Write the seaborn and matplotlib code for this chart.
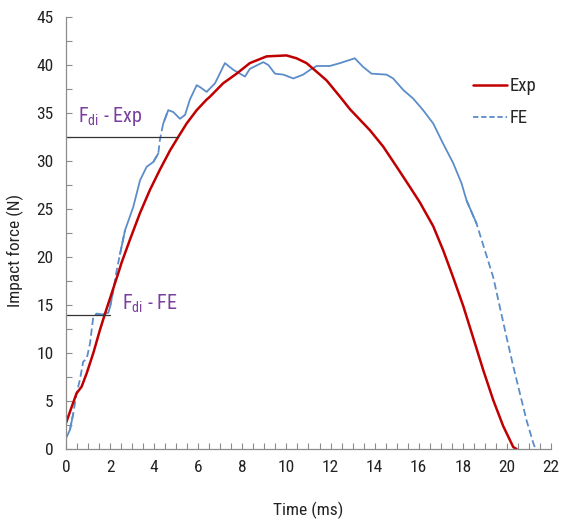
import numpy as np
import pandas as pd
import matplotlib
matplotlib.use("Agg")
import matplotlib.pyplot as plt
from matplotlib.lines import Line2D
from matplotlib.ticker import MultipleLocator
import seaborn as sns

# ---- data ----
exp_t = [0, 0.26, 0.48, 0.71, 0.94, 1.24, 1.54, 1.77, 2.07, 2.37, 2.52, 2.9, 3.36,
         3.81, 4.26, 4.72, 5.09, 5.47, 5.93, 6.38, 6.53, 7.13, 7.74, 8.34, 9.1, 10.0,
         10.46, 10.91, 11.37, 11.82, 12.43, 12.88, 13.79, 14.39, 15.0, 15.6, 16.05,
         16.66, 17.11, 17.56, 18.02, 18.47, 18.93, 19.38, 19.83, 20.29, 20.44]
exp_f = [2.7, 4.4, 5.8, 6.5, 7.9, 10.0, 12.4, 14.1, 16.2, 18.3, 19.4, 21.8, 24.6,
         27.0, 29.1, 31.1, 32.5, 33.9, 35.3, 36.4, 36.7, 38.1, 39.1, 40.2, 40.9, 41.0,
         40.7, 40.2, 39.3, 38.4, 36.7, 35.4, 33.2, 31.5, 29.4, 27.3, 25.7,
         23.2, 20.7, 17.9, 14.9, 11.6, 8.2, 5.1, 2.4, 0.2, 0.0]

fe_t = [0, 0.18, 0.33, 0.48, 0.63, 0.78, 0.94, 1.09, 1.24, 1.39, 1.62, 1.92, 2.0,
        2.15, 2.3, 2.45, 2.68, 3.05, 3.36, 3.66, 3.96, 4.19, 4.26, 4.41, 4.64, 4.87,
        5.17, 5.4, 5.62, 5.93, 6.08, 6.38, 6.76, 7.21, 7.59, 8.12, 8.34, 8.95, 9.18,
        9.48, 9.86, 10.31, 10.76, 11.07, 11.37, 11.97, 12.43, 13.1, 13.48, 13.86,
        14.54, 14.84, 15.3, 15.75, 16.2, 16.66, 17.11, 17.56, 17.94, 18.17, 18.62,
        19.0, 19.38, 19.68, 19.98, 20.29, 20.59, 20.89, 21.2, 21.3]
fe_f = [1.1, 2.0, 3.7, 5.8, 7.2, 9.1, 9.4, 11.0, 13.8, 14.1, 14.0, 14.2, 14.8,
        16.6, 18.6, 20.3, 22.8, 25.2, 28.0, 29.4, 29.9, 30.8, 32.2, 33.9, 35.3, 35.1,
        34.4, 34.8, 36.4, 37.9, 37.7, 37.2, 38.1, 40.2, 39.5, 38.8, 39.6, 40.3, 40.0,
        39.1, 39.0, 38.6, 39.0, 39.5, 39.9, 39.9, 40.2, 40.7, 39.8, 39.1,
        39.0, 38.6, 37.4, 36.5, 35.3, 33.9, 31.8, 29.8, 27.7, 25.9, 23.5,
        20.7, 17.9, 14.8, 11.7, 8.6, 5.8, 3.0, 0.6, 0.0]

series_labels = ["Exp", "FE"]
fdi_exp = 32.5   # force level of F_di - Exp
fdi_exp_t = 5.1
fdi_fe = 14.0    # force level of F_di - FE
fdi_fe_t = 2.0

# time ranges where the FE curve is drawn dashed in the reference
fe_dashed = [(0.3, 1.4), (2.1, 2.5), (4.15, 4.45), (18.4, 21.4)]

# ---- style ----
sns.set_theme(style="white")
plt.rcParams["font.family"] = ["Roboto Condensed", "Liberation Sans Narrow",
                               "Liberation Sans", "DejaVu Sans"]
plt.rcParams["mathtext.default"] = "regular"

RED = "#C00000"
BLUE = "#5B8DC9"
PURPLE = "#7A3FA0"
GREY = "#8C8C8C"
TXT = "#222222"

fig = plt.figure(figsize=(5.62, 5.22), dpi=100)
ax = fig.add_axes([0.1174, 0.1398, 0.8630, 0.8276])

df_exp = pd.DataFrame({"t": exp_t, "f": exp_f})
df_fe = pd.DataFrame({"t": fe_t, "f": fe_f})

# FE curve: split into solid / dashed runs
t_arr = np.array(fe_t)
dash_mask = np.zeros(len(t_arr), dtype=bool)
for a, b in fe_dashed:
    dash_mask |= (t_arr >= a) & (t_arr <= b)
runs = []
start = 0
for i in range(1, len(t_arr) + 1):
    if i == len(t_arr) or dash_mask[i] != dash_mask[start]:
        runs.append((start, i, dash_mask[start]))
        start = i
for s, e, dashed in runs:
    seg = df_fe.iloc[max(s - 1, 0):min(e + 1, len(df_fe))]
    sns.lineplot(data=seg, x="t", y="f", ax=ax, color=BLUE, lw=1.3,
                 linestyle=(0, (4, 2)) if dashed else "-",
                 sort=False, estimator=None, legend=False)

sns.lineplot(data=df_exp, x="t", y="f", ax=ax, color=RED, lw=1.8,
             sort=False, estimator=None, legend=False)

# F_di lines
ax.plot([0, fdi_exp_t], [fdi_exp, fdi_exp], color="#333333", lw=0.9)
ax.plot([0, fdi_fe_t], [fdi_fe, fdi_fe], color="#333333", lw=0.9)
ax.text(0.55, 33.4, r"F$_{di}$ - Exp", color=PURPLE, fontsize=14.5, ha="left", va="bottom")
ax.text(2.55, 14.0, r"F$_{di}$ - FE", color=PURPLE, fontsize=14.5, ha="left", va="bottom")

# axes
ax.set_xlim(0, 22)
ax.set_ylim(0, 45)
ax.xaxis.set_major_locator(MultipleLocator(2))
ax.xaxis.set_minor_locator(MultipleLocator(0.5))
ax.yaxis.set_major_locator(MultipleLocator(5))
ax.yaxis.set_minor_locator(MultipleLocator(2.5))
ax.tick_params(which="both", direction="in", length=4, width=0.8, color=GREY,
               labelsize=12.5, labelcolor=TXT)
ax.tick_params(axis="x", which="major", pad=8)
ax.tick_params(axis="y", which="major", pad=9)
ax.tick_params(which="both", bottom=True, left=True, top=False, right=False)
for side in ["top", "right"]:
    ax.spines[side].set_visible(False)
for side in ["left", "bottom"]:
    ax.spines[side].set_color(GREY)
    ax.spines[side].set_linewidth(0.9)

ax.set_xlabel("Time (ms)", fontsize=12.5, color=TXT)
ax.set_ylabel("Impact force (N)", fontsize=12.5, color=TXT)
ax.xaxis.set_label_coords(0.5, -0.122)
ax.yaxis.set_label_coords(-0.087, 0.46)

handles = [Line2D([], [], color=RED, lw=1.8),
           Line2D([], [], color=BLUE, lw=1.3, linestyle=(0, (3, 1.5)))]
ax.legend(handles, series_labels, loc="upper left", bbox_to_anchor=(0.805, 0.9),
          frameon=False, fontsize=13.5, handlelength=1.8, handletextpad=0.15,
          labelspacing=0.75)

fig.savefig("out.png", dpi=100)
